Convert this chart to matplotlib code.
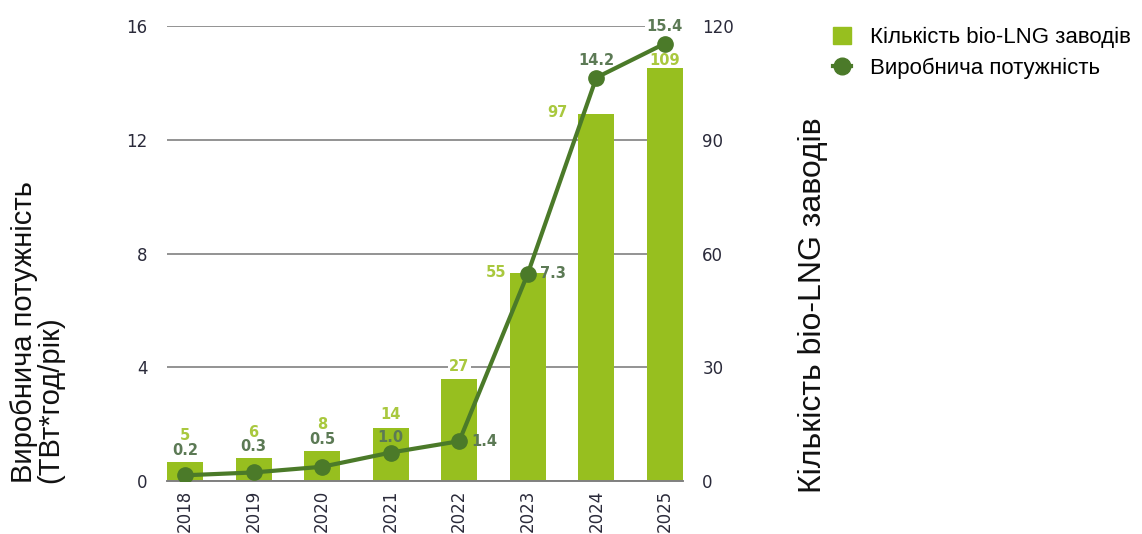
import matplotlib
matplotlib.use('Agg')
import matplotlib.pyplot as plt
from matplotlib.lines import Line2D
from matplotlib.patches import Patch

# bio-LNG в Європі: кількість заводів та виробнича потужність
years = ['2018', '2019', '2020', '2021', '2022', '2023', '2024', '2025']
plants = [5, 6, 8, 14, 27, 55, 97, 109]
capacity = [0.2, 0.3, 0.5, 1.0, 1.4, 7.3, 14.2, 15.4]
capacity_labels = ['0.2', '0.3', '0.5', '1.0', '1.4', '7.3', '14.2', '15.4']

# зміщення підписів (в пунктах) відносно верху стовпця / точки лінії
plant_offsets = [(0, 18.8), (0, 18.2), (0, 18.5), (0, 9.4), (0, 8.5), (-23, 0), (-28, 0.5), (0, 5.5)]
cap_offsets = [(0, 17.5), (0, 18.4), (0, 19.3), (0, 10.5), (18, 0), (18, 0), (0, 12.3), (0, 12.3)]
white_bg = ['27', '15.4']

bar_col = '#97BF1F'
line_col = '#4B7A29'
plant_txt = '#A9C83E'
cap_txt = '#5C7A55'
tick_col = '#2A2A3A'

fig = plt.figure(figsize=(11.42, 5.34), dpi=100)
ax = fig.add_axes([0.1462, 0.0993, 0.598 - 0.1462, 0.9504 - 0.0993])
ax2 = ax.twinx()

x = list(range(len(years)))
w = 0.525

# стовпці - кількість заводів (права шкала)
bars = ax.bar(x, plants, width=w, color=bar_col, zorder=2)
ax.set_ylim(0, 120)
ax.set_xlim(-w / 2, len(years) - 1 + w / 2)
ax.set_yticks([0, 30, 60, 90, 120])
ax.yaxis.tick_right()
ax.set_axisbelow(True)
ax.yaxis.grid(True, color='#808080', lw=1.2)
ax.set_xticks(x)
ax.set_xticklabels(years, rotation=90, fontsize=12, color=tick_col, family='Liberation Sans Narrow')

# лінія - виробнича потужність (ліва шкала)
ax2.plot(x, capacity, color=line_col, lw=3, marker='o', ms=11, zorder=3)
ax2.set_ylim(0, 16)
ax2.set_yticks([0, 4, 8, 12, 16])
ax2.yaxis.tick_left()

for a in (ax, ax2):
    for s in ['top', 'left', 'right']:
        a.spines[s].set_visible(False)
    a.spines['bottom'].set_color('#808080')
    a.spines['bottom'].set_linewidth(1.2)
    a.tick_params(axis='y', length=0, labelsize=12, labelcolor=tick_col, pad=14)
ax.tick_params(axis='x', length=0, pad=6)

for i in x:
    bb = dict(fc='white', ec='none', pad=1) if str(plants[i]) in white_bg else None
    ax.annotate(str(plants[i]), (i, plants[i]), xytext=plant_offsets[i], textcoords='offset points',
                ha='center', va='center', fontsize=10.5, fontweight='bold', color=plant_txt,
                bbox=bb, zorder=4)
    bb = dict(fc='white', ec='none', pad=1) if capacity_labels[i] in white_bg else None
    ax2.annotate(capacity_labels[i], (i, capacity[i]), xytext=cap_offsets[i], textcoords='offset points',
                 ha='center', va='center', fontsize=10.5, fontweight='bold', color=cap_txt,
                 bbox=bb, zorder=4)

fig.text(10 / 1142, 1 - 483 / 534, 'Виробнича потужність\n(ТВт*год/рік)', rotation=90,
         ha='left', va='bottom', multialignment='left', fontsize=21, family='Liberation Sans',
         color='#111111', linespacing=0.9)
fig.text(798 / 1142, 1 - 493 / 534, 'Кількість bio-LNG заводів', rotation=90,
         ha='left', va='bottom', fontsize=23, family='Liberation Sans', color='#111111')

handles = [Patch(color=bar_col),
           Line2D([], [], color=line_col, lw=3, marker='o', ms=12)]
fig.legend(handles, ['Кількість bio-LNG заводів', 'Виробнича потужність'],
           loc='upper left', bbox_to_anchor=(833 / 1142, 1 - 27 / 534), frameon=False,
           prop={'family': 'Liberation Sans', 'size': 16}, handlelength=0.8, handleheight=0.8,
           handletextpad=0.85, labelspacing=0.42, borderpad=0, borderaxespad=0)

fig.savefig('out.png', dpi=100)
